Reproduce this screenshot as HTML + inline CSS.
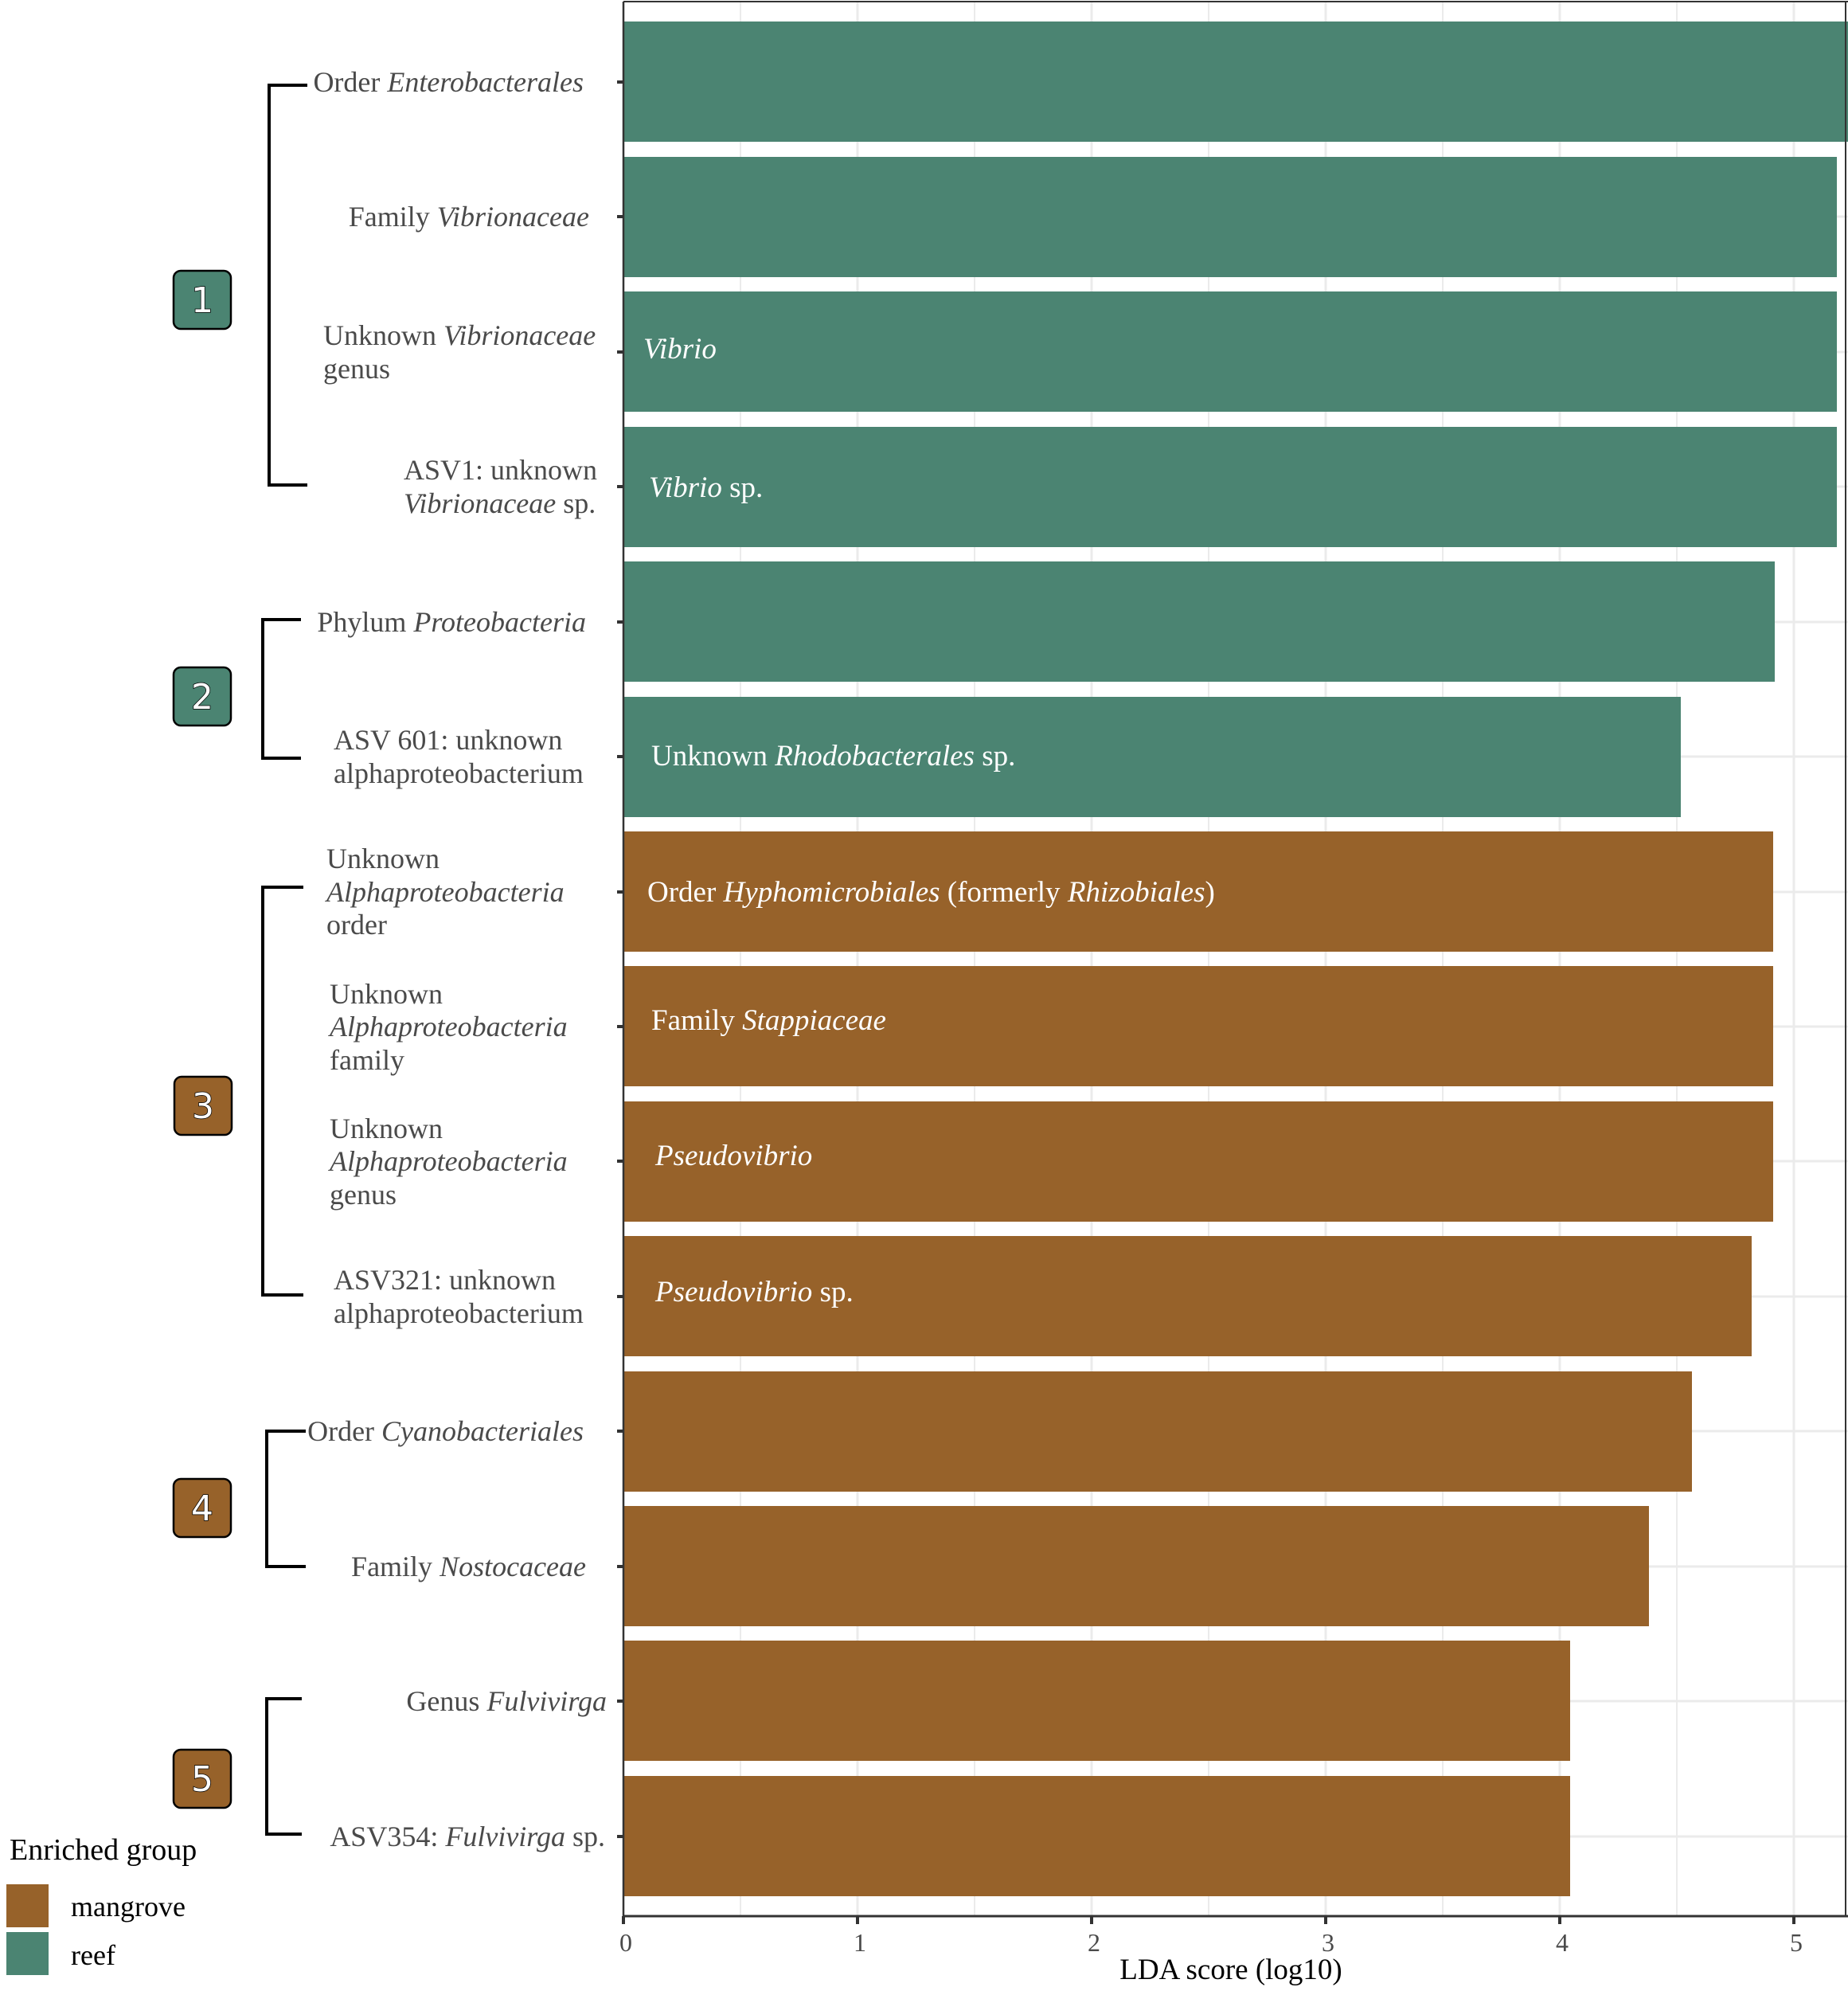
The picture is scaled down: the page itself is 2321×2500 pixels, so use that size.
<!DOCTYPE html>
<html><head><meta charset="utf-8"><style>
html,body{margin:0;padding:0;background:#fff;}
svg{display:block;}
text{font-family:"Liberation Serif",serif;}
.l{font-size:36px;fill:#4a4a4a;}
.w{font-size:37px;fill:#fff;}
.n text{font-family:"DejaVu Sans","Liberation Sans",sans-serif;font-size:44px;fill:#fff;stroke:#000;stroke-width:1.5px;paint-order:stroke;}
</style></head><body>
<svg width="2321" height="2500" viewBox="0 0 2321 2500" xmlns="http://www.w3.org/2000/svg">
<rect width="2321" height="2500" fill="#fff"/>
<g stroke="#ebebeb" stroke-width="2">
<line x1="930" y1="3" x2="930" y2="2406"/><line x1="1224" y1="3" x2="1224" y2="2406"/><line x1="1518" y1="3" x2="1518" y2="2406"/><line x1="1812" y1="3" x2="1812" y2="2406"/><line x1="2106" y1="3" x2="2106" y2="2406"/>
</g>
<g stroke="#ebebeb" stroke-width="3">
<line x1="1077" y1="3" x2="1077" y2="2406"/><line x1="1371" y1="3" x2="1371" y2="2406"/><line x1="1665" y1="3" x2="1665" y2="2406"/><line x1="1959" y1="3" x2="1959" y2="2406"/><line x1="2253" y1="3" x2="2253" y2="2406"/>
<line x1="783" y1="103" x2="2321" y2="103"/><line x1="783" y1="272" x2="2321" y2="272"/><line x1="783" y1="442" x2="2321" y2="442"/><line x1="783" y1="611" x2="2321" y2="611"/><line x1="783" y1="781" x2="2321" y2="781"/><line x1="783" y1="950" x2="2321" y2="950"/><line x1="783" y1="1120" x2="2321" y2="1120"/><line x1="783" y1="1289" x2="2321" y2="1289"/><line x1="783" y1="1458" x2="2321" y2="1458"/><line x1="783" y1="1628" x2="2321" y2="1628"/><line x1="783" y1="1797" x2="2321" y2="1797"/><line x1="783" y1="1967" x2="2321" y2="1967"/><line x1="783" y1="2136" x2="2321" y2="2136"/><line x1="783" y1="2306" x2="2321" y2="2306"/>
</g>
<g fill="#4b8472">
<rect x="783" y="27" width="1538" height="151"/>
<rect x="783" y="197" width="1524" height="151"/>
<rect x="783" y="366" width="1524" height="151"/>
<rect x="783" y="536" width="1524" height="151"/>
<rect x="783" y="705" width="1446" height="151"/>
<rect x="783" y="875" width="1328" height="151"/>
</g>
<g fill="#97622a">
<rect x="783" y="1044" width="1444" height="151"/>
<rect x="783" y="1213" width="1444" height="151"/>
<rect x="783" y="1383" width="1444" height="151"/>
<rect x="783" y="1552" width="1417" height="151"/>
<rect x="783" y="1722" width="1342" height="151"/>
<rect x="783" y="1891" width="1288" height="151"/>
<rect x="783" y="2060" width="1189" height="151"/>
<rect x="783" y="2230" width="1189" height="151"/>
</g>
<line x1="783" y1="2" x2="2321" y2="2" stroke="#333" stroke-width="2"/>
<line x1="783" y1="2" x2="783" y2="2407" stroke="#333" stroke-width="2.5"/>
<line x1="783" y1="2406" x2="2321" y2="2406" stroke="#333" stroke-width="3"/>
<line x1="2318" y1="2" x2="2318" y2="2407" stroke="#333" stroke-width="2"/>
<g stroke="#333" stroke-width="4">
<line x1="775" y1="103" x2="783" y2="103"/><line x1="775" y1="272" x2="783" y2="272"/><line x1="775" y1="442" x2="783" y2="442"/><line x1="775" y1="611" x2="783" y2="611"/><line x1="775" y1="781" x2="783" y2="781"/><line x1="775" y1="950" x2="783" y2="950"/><line x1="775" y1="1120" x2="783" y2="1120"/><line x1="775" y1="1289" x2="783" y2="1289"/><line x1="775" y1="1458" x2="783" y2="1458"/><line x1="775" y1="1628" x2="783" y2="1628"/><line x1="775" y1="1797" x2="783" y2="1797"/><line x1="775" y1="1967" x2="783" y2="1967"/><line x1="775" y1="2136" x2="783" y2="2136"/><line x1="775" y1="2306" x2="783" y2="2306"/>
<line x1="783" y1="2406" x2="783" y2="2416"/><line x1="1077" y1="2406" x2="1077" y2="2416"/><line x1="1371" y1="2406" x2="1371" y2="2416"/><line x1="1665" y1="2406" x2="1665" y2="2416"/><line x1="1959" y1="2406" x2="1959" y2="2416"/><line x1="2253" y1="2406" x2="2253" y2="2416"/>
</g>
<g class="l" text-anchor="middle" style="font-size:32px">
<text x="786" y="2450">0</text><text x="1080" y="2450">1</text><text x="1374" y="2450">2</text><text x="1668" y="2450">3</text><text x="1962" y="2450">4</text><text x="2256" y="2450">5</text>
</g>
<text x="1546" y="2485" text-anchor="middle" style="font-size:37px;fill:#000">LDA score (log10)</text>
<g class="l">
<text x="733" y="115" text-anchor="end">Order <tspan font-style="italic">Enterobacterales</tspan></text>
<text x="740" y="284" text-anchor="end">Family <tspan font-style="italic">Vibrionaceae</tspan></text>
<text x="406" y="433">Unknown <tspan font-style="italic">Vibrionaceae</tspan></text>
<text x="406" y="475">genus</text>
<text x="507" y="602">ASV1: unknown</text>
<text x="507" y="644"><tspan font-style="italic">Vibrionaceae</tspan> sp.</text>
<text x="736" y="793" text-anchor="end">Phylum <tspan font-style="italic">Proteobacteria</tspan></text>
<text x="419" y="941">ASV 601: unknown</text>
<text x="419" y="983">alphaproteobacterium</text>
<text x="410" y="1090">Unknown</text>
<text x="410" y="1132" font-style="italic">Alphaproteobacteria</text>
<text x="410" y="1173">order</text>
<text x="414" y="1260">Unknown</text>
<text x="414" y="1301" font-style="italic">Alphaproteobacteria</text>
<text x="414" y="1343">family</text>
<text x="414" y="1429">Unknown</text>
<text x="414" y="1470" font-style="italic">Alphaproteobacteria</text>
<text x="414" y="1512">genus</text>
<text x="419" y="1619">ASV321: unknown</text>
<text x="419" y="1661">alphaproteobacterium</text>
<text x="733" y="1809" text-anchor="end">Order <tspan font-style="italic">Cyanobacteriales</tspan></text>
<text x="736" y="1979" text-anchor="end">Family <tspan font-style="italic">Nostocaceae</tspan></text>
<text x="762" y="2148" text-anchor="end">Genus <tspan font-style="italic">Fulvivirga</tspan></text>
<text x="760" y="2318" text-anchor="end">ASV354: <tspan font-style="italic">Fulvivirga</tspan> sp.</text>
</g>
<g class="w">
<text x="808" y="450" font-style="italic">Vibrio</text>
<text x="815" y="624"><tspan font-style="italic">Vibrio</tspan> sp.</text>
<text x="818" y="961">Unknown <tspan font-style="italic">Rhodobacterales</tspan> sp.</text>
<text x="813" y="1132">Order <tspan font-style="italic">Hyphomicrobiales</tspan> (formerly <tspan font-style="italic">Rhizobiales</tspan>)</text>
<text x="818" y="1293">Family <tspan font-style="italic">Stappiaceae</tspan></text>
<text x="823" y="1463" font-style="italic">Pseudovibrio</text>
<text x="823" y="1634"><tspan font-style="italic">Pseudovibrio</tspan> sp.</text>
</g>
<g fill="none" stroke="#000" stroke-width="4">
<polyline points="386,107 338,107 338,609 386,609"/>
<polyline points="378,778 330,778 330,952 378,952"/>
<polyline points="381,1114 330,1114 330,1626 381,1626"/>
<polyline points="384,1797 335,1797 335,1967 384,1967"/>
<polyline points="379,2133 335,2133 335,2303 379,2303"/>
</g>
<g stroke="#000" stroke-width="2.5">
<rect x="218" y="340" width="72" height="73" rx="9" fill="#4b8472"/>
<rect x="218" y="838" width="72" height="73" rx="9" fill="#4b8472"/>
<rect x="219" y="1352" width="72" height="73" rx="9" fill="#97622a"/>
<rect x="218" y="1857" width="72" height="73" rx="9" fill="#97622a"/>
<rect x="218" y="2197" width="72" height="73" rx="9" fill="#97622a"/>
</g>
<g class="n" text-anchor="middle">
<text x="254" y="392">1</text><text x="254" y="890">2</text><text x="255" y="1404">3</text><text x="254" y="1909">4</text><text x="254" y="2249">5</text>
</g>
<text x="12" y="2335" style="font-size:38px;fill:#000">Enriched group</text>
<rect x="8" y="2366" width="53" height="54" fill="#97622a"/>
<rect x="8" y="2426" width="53" height="54" fill="#4b8472"/>
<text x="89" y="2406" style="font-size:36px;fill:#000">mangrove</text>
<text x="89" y="2467" style="font-size:36px;fill:#000">reef</text>
</svg>
</body></html>
